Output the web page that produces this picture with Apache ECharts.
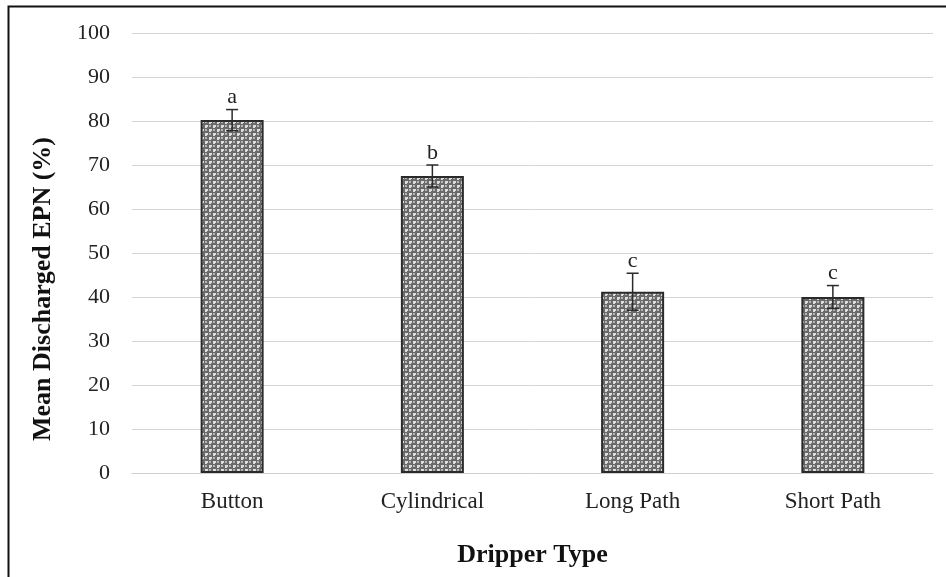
<!DOCTYPE html>
<html>
<head>
<meta charset="utf-8">
<script src="https://cdn.jsdelivr.net/npm/echarts@6/dist/echarts.min.js"></script>
<style>
html,body{margin:0;padding:0;background:#fff;}
#chart{width:946px;height:577px;}
</style>
</head>
<body>
<div id="chart"></div>
<script>
// Dripper types and mean discharged EPN (%)
const categories = ['Button', 'Cylindrical', 'Long Path', 'Short Path'];
const meanValues = [80.2, 67.5, 41.2, 40.0];
const errorValues = [2.4, 2.5, 4.2, 2.6];
const groupLetters = ['a', 'b', 'c', 'c'];
const yTicks = [0, 10, 20, 30, 40, 50, 60, 70, 80, 90, 100];

// Small tiled fill resembling a dotted grey hatch
function makePattern() {
  const c = document.createElement('canvas');
  c.width = 8; c.height = 8;
  const g = c.getContext('2d');
  g.fillStyle = '#6a6a6a';
  g.fillRect(0, 0, 8, 8);
  g.fillStyle = '#dcdcdc';
  g.fillRect(1, 1, 3, 2);
  g.fillRect(1, 2, 2, 2);
  g.fillRect(5, 5, 3, 2);
  g.fillRect(5, 6, 2, 2);
  g.fillStyle = '#b4b4b4';
  g.fillRect(5, 1, 2, 2);
  g.fillRect(1, 5, 2, 2);
  return c;
}

const serif = '"Liberation Serif", "DejaVu Serif", serif';
const chart = echarts.init(document.getElementById('chart'), null, {renderer: 'canvas'});

const option = {
  animation: false,
  backgroundColor: '#fff',
  grid: {left: 132, right: 13, top: 33, bottom: 104},
  graphic: [
    {
      type: 'rect',
      shape: {x: 8.5, y: 6.5, width: 960, height: 600},
      style: {fill: 'none', stroke: '#111', lineWidth: 2},
      silent: true
    },
    {
      type: 'text',
      x: 43, y: 289,
      rotation: Math.PI / 2,
      style: {
        text: 'Mean Discharged EPN (%)',
        font: 'bold 26px ' + serif,
        fill: '#111',
        textAlign: 'center',
        textVerticalAlign: 'middle'
      },
      silent: true
    }
  ],
  xAxis: {
    type: 'category',
    data: categories,
    name: 'Dripper Type',
    nameLocation: 'middle',
    nameGap: 69,
    nameTextStyle: {fontFamily: serif, fontSize: 26, fontWeight: 'bold', color: '#111'},
    axisLine: {show: true, lineStyle: {color: '#d0d0d0', width: 1}},
    axisTick: {show: false},
    axisLabel: {fontFamily: serif, fontSize: 23, color: '#222', margin: 17}
  },
  yAxis: {
    type: 'value',
    min: 0, max: 100, interval: 10,
    axisLine: {show: false},
    axisTick: {show: false},
    axisLabel: {
      fontFamily: serif, fontSize: 22, color: '#222', margin: 22,
      formatter: v => yTicks.includes(v) ? String(v) : ''
    },
    splitLine: {lineStyle: {color: '#d6d6d6', width: 1}}
  },
  series: [
    {
      type: 'bar',
      data: meanValues,
      barWidth: 63,
      itemStyle: {
        color: {image: makePattern(), repeat: 'repeat'},
        borderColor: '#2a2a2a',
        borderWidth: 2
      },
      z: 2
    },
    {
      // error bars with group letters above
      type: 'custom',
      data: meanValues.map((m, i) => [i, m, errorValues[i], groupLetters[i]]),
      z: 5,
      renderItem: function (params, api) {
        const i = api.value(0);
        const m = api.value(1);
        const e = api.value(2);
        const top = api.coord([i, m + e]);
        const bot = api.coord([i, m - e]);
        const half = 6;
        const ls = {stroke: '#2a2a2a', lineWidth: 1.5};
        return {
          type: 'group',
          children: [
            {type: 'line', shape: {x1: top[0], y1: top[1], x2: bot[0], y2: bot[1]}, style: ls},
            {type: 'line', shape: {x1: top[0] - half, y1: top[1], x2: top[0] + half, y2: top[1]}, style: ls},
            {type: 'line', shape: {x1: bot[0] - half, y1: bot[1], x2: bot[0] + half, y2: bot[1]}, style: ls},
            {
              type: 'text',
              style: {
                x: top[0], y: top[1] - 1,
                text: groupLetters[params.dataIndex],
                textAlign: 'center', textVerticalAlign: 'bottom',
                font: '22px ' + serif, fill: '#222'
              }
            }
          ]
        };
      }
    }
  ]
};
chart.setOption(option);
</script>
</body>
</html>
